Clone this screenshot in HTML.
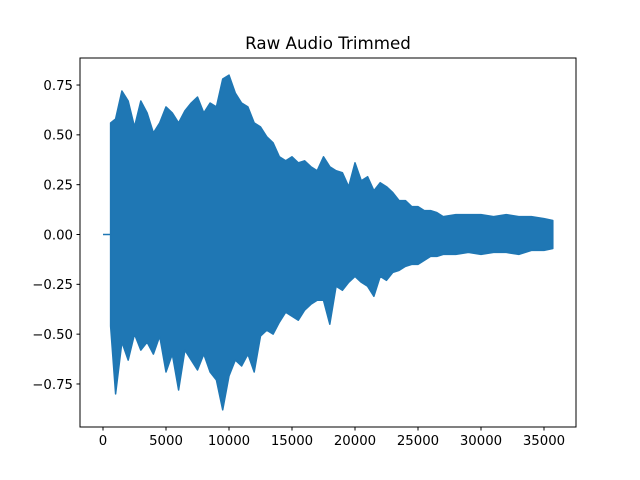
<!DOCTYPE html>
<html><head><meta charset="utf-8"><style>
body{margin:0;background:#fff;}
svg{display:block;font-family:"DejaVu Sans","Liberation Sans",sans-serif;}
</style></head><body>
<svg id="chart" width="640" height="480">
<rect x="0" y="0" width="640" height="480" fill="#fff"/>
<text x="328" y="49" text-anchor="middle" font-size="16.7">Raw Audio Trimmed</text>
<g id="plot"></g>
<rect x="80" y="58" width="496" height="369" fill="none" stroke="#000" stroke-width="1"/>
<g id="xaxis"></g>
<g id="yaxis"></g>
</svg>
<script>
const samples=[600,1000,1500,2000,2500,3000,3500,4000,4500,5000,5500,6000,6500,7000,7500,8000,8500,9000,9500,10000,10500,11000,11500,12000,12500,13000,13500,14000,14500,15000,15500,16000,16500,17000,17500,18000,18500,19000,19500,20000,20500,21000,21500,22000,22500,23000,23500,24000,24500,25000,25500,26000,26500,27000,28000,29000,30000,31000,32000,33000,34000,35000,35700];
const upper=[0.56,0.58,0.72,0.67,0.54,0.67,0.61,0.51,0.56,0.64,0.61,0.56,0.62,0.66,0.69,0.61,0.66,0.64,0.78,0.80,0.71,0.66,0.64,0.56,0.54,0.49,0.46,0.39,0.37,0.39,0.36,0.37,0.34,0.32,0.39,0.34,0.32,0.31,0.24,0.36,0.27,0.29,0.22,0.26,0.24,0.21,0.17,0.17,0.14,0.14,0.12,0.12,0.11,0.09,0.10,0.10,0.10,0.09,0.10,0.09,0.09,0.08,0.07];
const lower=[-0.46,-0.80,-0.54,-0.63,-0.50,-0.58,-0.54,-0.60,-0.51,-0.69,-0.60,-0.78,-0.58,-0.63,-0.68,-0.60,-0.69,-0.73,-0.88,-0.71,-0.63,-0.66,-0.60,-0.69,-0.51,-0.48,-0.50,-0.44,-0.39,-0.41,-0.43,-0.38,-0.35,-0.33,-0.33,-0.45,-0.26,-0.28,-0.24,-0.21,-0.24,-0.26,-0.31,-0.21,-0.23,-0.19,-0.18,-0.16,-0.15,-0.15,-0.13,-0.11,-0.11,-0.10,-0.10,-0.09,-0.10,-0.09,-0.09,-0.10,-0.08,-0.08,-0.07];
const xTicks=[0,5000,10000,15000,20000,25000,30000,35000];
const yTicks=[0.75,0.50,0.25,0.00,-0.25,-0.50,-0.75];
const yTickLabels=["0.75","0.50","0.25","0.00","−0.25","−0.50","−0.75"];

const NS="http://www.w3.org/2000/svg";
function xs(v){return 103+v*0.0126;}
function ys(v){return 234.5-v*199.3;}
const plot=document.getElementById('plot');
const lead=document.createElementNS(NS,'line');


lead.setAttribute('x1',xs(0));lead.setAttribute('x2',xs(samples[0]));
lead.setAttribute('y1',ys(0));lead.setAttribute('y2',ys(0));
lead.setAttribute('stroke','#1f77b4');lead.setAttribute('stroke-width','1.5');
plot.appendChild(lead);
let d='';
samples.forEach((s,i)=>{d+=(i?'L':'M')+xs(s).toFixed(1)+' '+ys(upper[i]).toFixed(1);});
for(let i=samples.length-1;i>=0;i--){d+='L'+xs(samples[i]).toFixed(1)+' '+ys(lower[i]).toFixed(1);}
d+='Z';
const wave=document.createElementNS(NS,'path');


wave.setAttribute('d',d);
wave.setAttribute('fill','#1f77b4');wave.setAttribute('stroke','#1f77b4');wave.setAttribute('stroke-width','1.5');wave.setAttribute('stroke-linejoin','round');
plot.appendChild(wave);

const xa=document.getElementById('xaxis');
xTicks.forEach(t=>{
 const x=xs(t);
 const l=document.createElementNS(NS,'line');
 
 
 l.setAttribute('x1',x);l.setAttribute('x2',x);l.setAttribute('y1',427);l.setAttribute('y2',430.5);l.setAttribute('stroke','#000');
 xa.appendChild(l);
 const tx=document.createElementNS(NS,'text');
 
 
 tx.setAttribute('x',x);tx.setAttribute('y',445);tx.setAttribute('text-anchor','middle');tx.setAttribute('font-size','13.3');
 tx.textContent=String(t);
 xa.appendChild(tx);
});
const ya=document.getElementById('yaxis');
yTicks.forEach((t,i)=>{
 const y=ys(t);
 const l=document.createElementNS(NS,'line');
 
 
 l.setAttribute('x1',76.5);l.setAttribute('x2',80);l.setAttribute('y1',y);l.setAttribute('y2',y);l.setAttribute('stroke','#000');
 ya.appendChild(l);
 const tx=document.createElementNS(NS,'text');
 
 
 tx.setAttribute('x',73);tx.setAttribute('y',y+4.8);tx.setAttribute('text-anchor','end');tx.setAttribute('font-size','13.3');
 tx.textContent=yTickLabels[i];
 ya.appendChild(tx);
});
</script>
</body></html>
